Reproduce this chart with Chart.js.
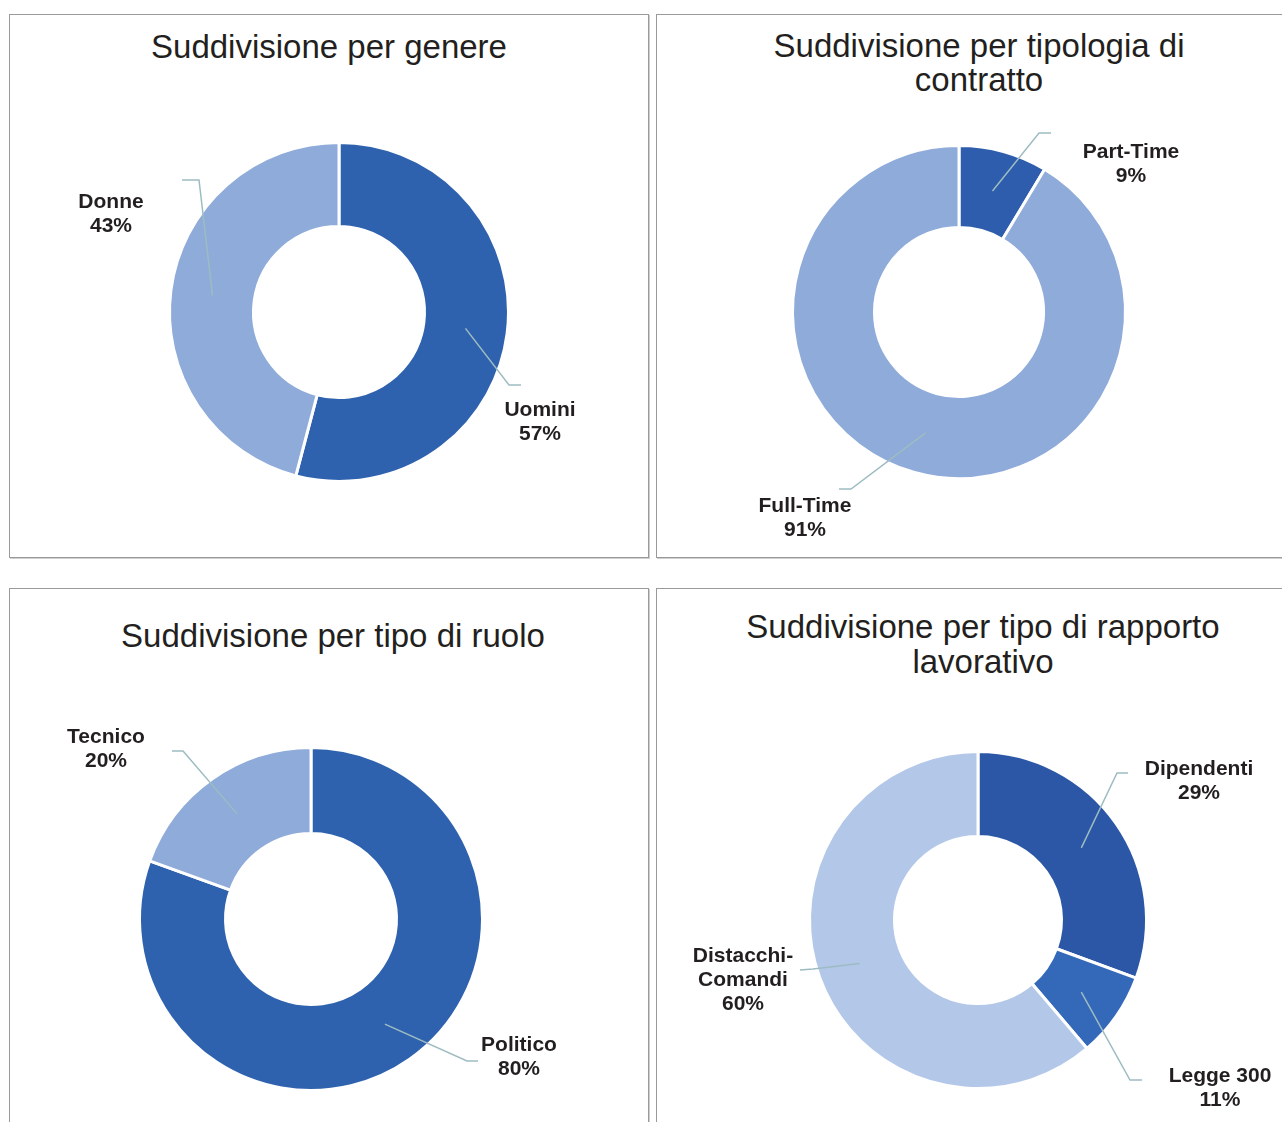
<!DOCTYPE html>
<html lang="it">
<head>
<meta charset="utf-8">
<title>Suddivisione del personale</title>
<script src="https://cdn.jsdelivr.net/npm/chart.js@4.4.1/dist/chart.umd.min.js"></script>
<style>
  html, body { margin: 0; padding: 0; background: #fff; }
  body {
    width: 1282px; height: 1122px; position: relative; overflow: hidden;
    font-family: "Liberation Sans", Arial, Helvetica, sans-serif;
  }
  .panel {
    position: absolute; width: 638px; height: 542px;
    border: 1px solid #9a9a9a; box-shadow: 1px 1px 0 #cfcfcf;
  }
  .title {
    position: absolute; width: 640px; text-align: center;
    font-size: 33px; line-height: 34px; color: #231f20;
  }
  canvas { position: absolute; }
</style>
</head>
<body>
  <div class="panel" style="left:9px; top:14px;"></div>
  <div class="panel" style="left:656px; top:14px;"></div>
  <div class="panel" style="left:9px; top:588px; height:600px;"></div>
  <div class="panel" style="left:656px; top:588px; height:600px;"></div>

  <div class="title" style="left:9px; top:29.6px;">Suddivisione per genere</div>
  <div class="title" style="left:659px; top:28.6px;">Suddivisione per tipologia di<br>contratto</div>
  <div class="title" style="left:13px; top:618.6px;">Suddivisione per tipo di ruolo</div>
  <div class="title" style="left:663px; top:609px; line-height:35px;">Suddivisione per tipo di rapporto<br>lavorativo</div>

  <canvas id="chartGenere" width="640" height="480"></canvas>
  <canvas id="chartContratto" width="640" height="480"></canvas>
  <canvas id="chartRuolo" width="640" height="480"></canvas>
  <canvas id="chartRapporto" width="640" height="480"></canvas>

<script>
const genereLabels = ["Uomini", "Donne"];
const generePct = ["57%", "43%"];
const genereValues = [54.1, 45.9];

const contrattoLabels = ["Part-Time", "Full-Time"];
const contrattoPct = ["9%", "91%"];
const contrattoValues = [8.6, 91.4];

const ruoloLabels = ["Politico", "Tecnico"];
const ruoloPct = ["80%", "20%"];
const ruoloValues = [80.5, 19.5];

const rapportoLabels = ["Dipendenti", "Legge 300", ["Distacchi-", "Comandi"]];
const rapportoPct = ["29%", "11%", "60%"];
const rapportoValues = [30.6, 8.2, 61.2];

// colours
const darkBlue = "#2f62ae";
const lightBlue = "#8eabd9";
const leaderColor = "#9dbcc2";
const textColor = "#231f20";

// placement of each donut and its leader lines (offsets from the donut centre)
const layGenere = {
  cx: 339, cy: 312, outer: 168, inner: 87,
  leaders: [
    { elbow: [170, 73], tick: [182, 73], text: [201, 104] },
    { elbow: [-140, -132], tick: [-157, -132], text: [-228, -104] }
  ]
};
const layContratto = {
  cx: 959, cy: 312, outer: 165, inner: 86,
  leaders: [
    { elbow: [80, -179], tick: [92, -179], text: [172, -154] },
    { elbow: [-108, 177], tick: [-120, 177], text: [-154, 200] }
  ]
};
const layRuolo = {
  cx: 311, cy: 919, outer: 170, inner: 87,
  leaders: [
    { elbow: [156, 142], tick: [167, 142], text: [208, 132] },
    { elbow: [-128, -168], tick: [-139, -168], text: [-205, -176] }
  ]
};
const layRapporto = {
  cx: 978, cy: 920, outer: 167, inner: 85,
  leaders: [
    { elbow: [139, -147], tick: [150, -147], text: [221, -145] },
    { elbow: [152, 160], tick: [164, 160], text: [242, 162] },
    { elbow: [-165, 49], tick: [-178, 50], text: [-235, 42] }
  ]
};

function leaderPlugin(pct, lay) {
  return {
    id: "leaders",
    afterDatasetsDraw(chart) {
      const ctx = chart.ctx;
      const meta = chart.getDatasetMeta(0);
      meta.data.forEach((arc, i) => {
        const p = arc.getProps(["x", "y", "startAngle", "endAngle", "innerRadius", "outerRadius"], true);
        const mid = (p.startAngle + p.endAngle) / 2;
        const rm = (p.innerRadius + p.outerRadius) / 2;
        const L = lay.leaders[i];

        ctx.save();
        ctx.strokeStyle = leaderColor;
        ctx.lineWidth = 1.5;
        ctx.beginPath();
        ctx.moveTo(p.x + Math.cos(mid) * rm, p.y + Math.sin(mid) * rm);
        ctx.lineTo(p.x + L.elbow[0], p.y + L.elbow[1]);
        ctx.lineTo(p.x + L.tick[0], p.y + L.tick[1]);
        ctx.stroke();

        const lines = [].concat(chart.data.labels[i], pct[i]);
        ctx.fillStyle = textColor;
        ctx.font = "bold 21px 'Liberation Sans', Arial, sans-serif";
        ctx.textAlign = "center";
        ctx.textBaseline = "alphabetic";
        lines.forEach((t, k) => {
          ctx.fillText(t, p.x + L.text[0], p.y + L.text[1] + k * 24);
        });
        ctx.restore();
      });
    }
  };
}

function makeDonut(id, labels, pct, values, colors, lay) {
  const canvas = document.getElementById(id);
  canvas.style.left = (lay.cx - canvas.width / 2) + "px";
  canvas.style.top = (lay.cy - canvas.height / 2) + "px";

  // white border is stroked on the edge, so widen the ring by half of it
  const outer = lay.outer + 1.5;
  const inner = lay.inner - 1.5;

  new Chart(canvas, {
    type: "doughnut",
    data: {
      labels: labels,
      datasets: [{
        data: values,
        backgroundColor: colors,
        borderColor: "#ffffff",
        borderWidth: 3,
        radius: outer,
        cutout: (inner / outer * 100) + "%"
      }]
    },
    options: {
      responsive: false,
      animation: false,
      events: [],
      layout: { padding: 0 },
      plugins: {
        legend: { display: false },
        tooltip: { enabled: false }
      }
    },
    plugins: [leaderPlugin(pct, lay)]
  });
}

makeDonut("chartGenere", genereLabels, generePct, genereValues, [darkBlue, lightBlue], layGenere);
makeDonut("chartContratto", contrattoLabels, contrattoPct, contrattoValues, ["#2d5dac", lightBlue], layContratto);
makeDonut("chartRuolo", ruoloLabels, ruoloPct, ruoloValues, [darkBlue, lightBlue], layRuolo);
makeDonut("chartRapporto", rapportoLabels, rapportoPct, rapportoValues, ["#2b57a6", "#3468b9", "#b3c8e9"], layRapporto);
</script>
</body>
</html>
